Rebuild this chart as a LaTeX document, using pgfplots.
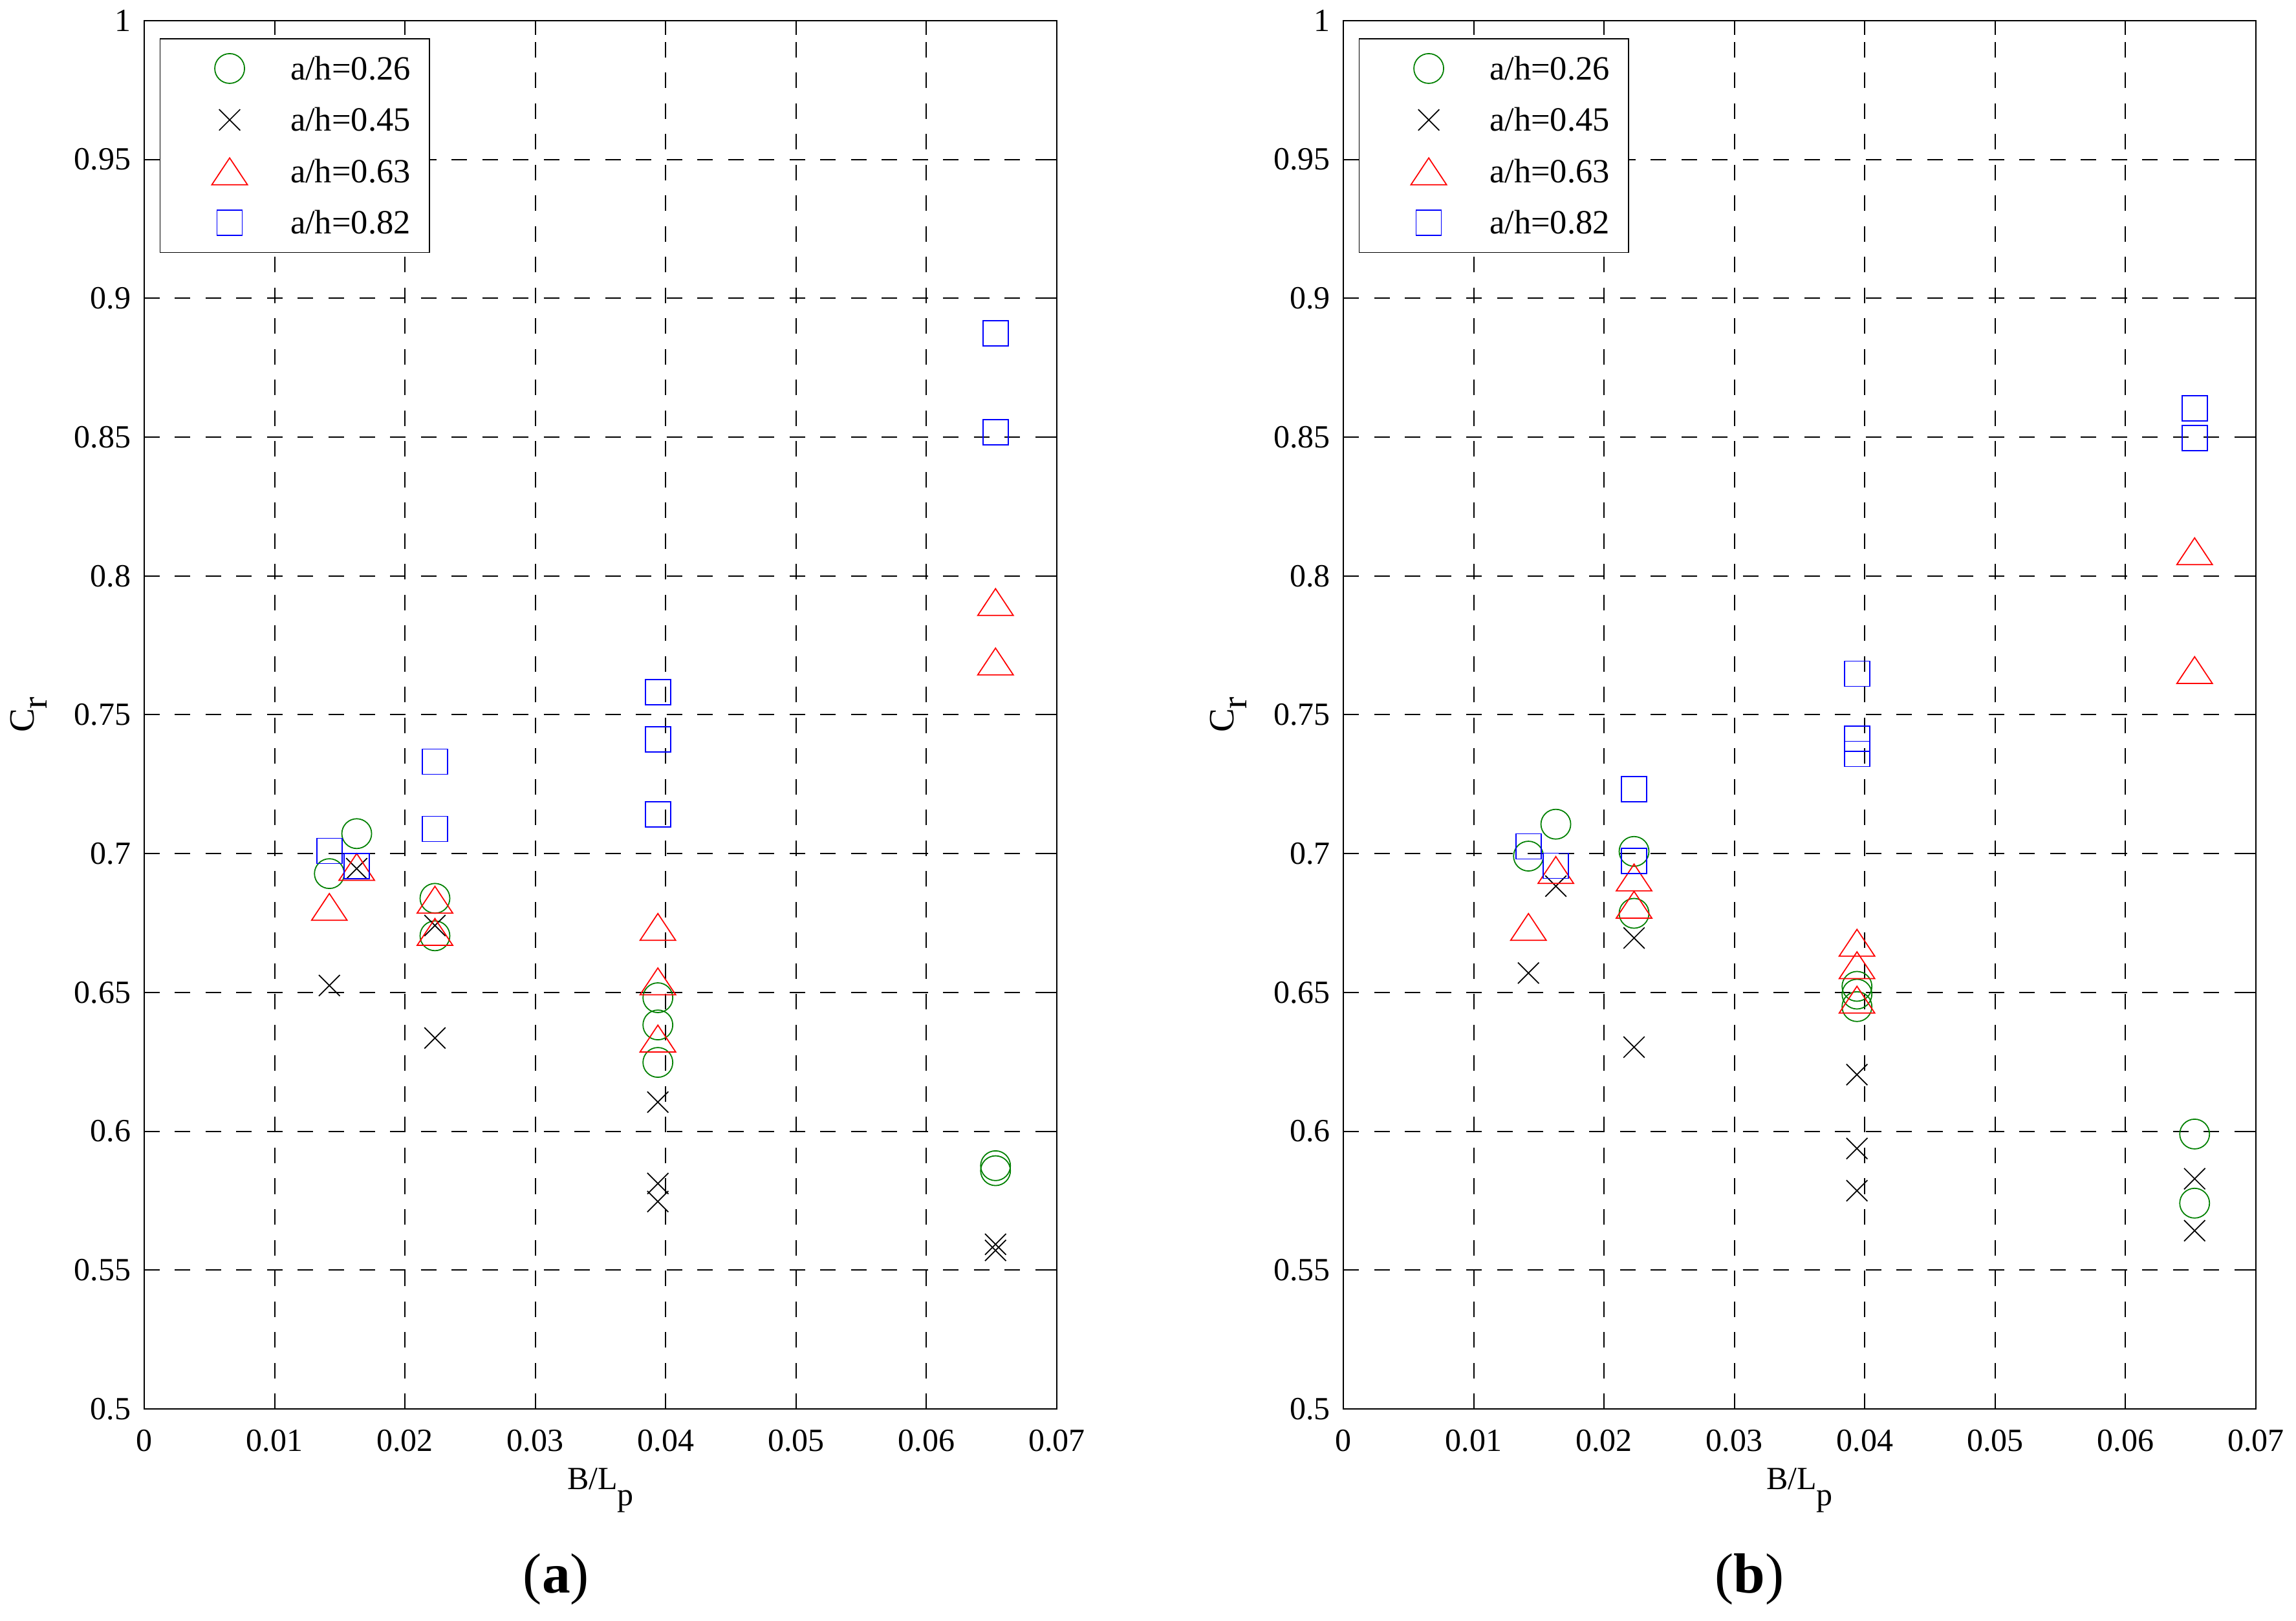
\documentclass[border=0pt]{standalone}
\usepackage{fontspec}
\setmainfont{Liberation Serif}
\usepackage{pgfplots}
\pgfplotsset{compat=1.18}
\definecolor{mgreen}{rgb}{0,0.5,0}

\pgfplotsset{
  myaxis/.style={
    scale only axis, width=282.2pt, height=429.4pt,
    xmin=0, xmax=0.07, ymin=0.5, ymax=1,
    scaled x ticks=false, scaled y ticks=false,
    xtick={0,0.01,0.02,0.03,0.04,0.05,0.06,0.07},
    xticklabels={0,0.01,0.02,0.03,0.04,0.05,0.06,0.07},
    ytick={0.5,0.55,0.6,0.65,0.7,0.75,0.8,0.85,0.9,0.95,1},
    yticklabels={0.5,0.55,0.6,0.65,0.7,0.75,0.8,0.85,0.9,0.95,1},
    tick align=inside, xtick pos=both, ytick pos=both,
    xticklabel pos=lower, yticklabel pos=left,
    major tick length=4.5pt,
    tick style={black, line width=0.4pt},
    axis line style={black, line width=0.4pt},
    grid=major,
    major grid style={black, line width=0.4pt, dash pattern=on 4.8pt off 4.7pt},
    xticklabel style={font=\fontsize{10}{12}\selectfont, inner sep=0pt, anchor=north, yshift=-6.2pt},
    yticklabel style={font=\fontsize{10}{12}\selectfont, inner sep=0pt, anchor=east, xshift=-3.9pt},
    every axis x label/.style={at={(axis description cs:0.5,0)}, anchor=north, inner sep=0pt, yshift=-18.2pt, font=\fontsize{10}{12}\selectfont},
    every axis y label/.style={at={(axis description cs:0,0.5)}, xshift=-34pt, rotate=90, anchor=base, inner sep=0pt, font=\fontsize{11}{13}\selectfont},
    xlabel={B/L\raisebox{-5pt}{p}},
    ylabel={C\raisebox{-4pt}{r}},
    legend cell align=left,
    legend style={at={(0.0168,0.9874)}, anchor=north west, draw=black, line width=0.35pt, fill=white,
      inner xsep=5.9pt, inner ysep=1.25pt, row sep=0pt, column sep=10.4pt,
      font=\fontsize{10.5}{12}\selectfont,
      nodes={inner sep=0pt, text height=7pt, text depth=0pt}},
    legend image code/.code={\path[draw=none, fill=none] (0pt,-7.95pt) rectangle (24pt,7.95pt); \draw[##1] plot coordinates {(15.6pt,0pt)};},
  },
  scirc/.style={only marks, color=mgreen, mark=o, mark size=4.6pt, mark options={solid, line width=0.35pt}},
  scross/.style={only marks, color=black, mark=x, mark size=4.6pt, mark options={solid, line width=0.35pt}},
  stri/.style={only marks, color=red, mark=triangle, mark size=6.35pt, mark options={solid, line width=0.35pt, yshift=-1.38pt, yscale=0.87}},
  ssq/.style={only marks, color=blue, mark=square, mark size=3.9pt, mark options={solid, line width=0.35pt}},
}

\begin{document}
\begin{tikzpicture}
% ---------------- (a)
\begin{axis}[myaxis, at={(44.6pt,65.4pt)}, anchor=south west]
\addplot[scirc] coordinates {(0.0142,0.6928) (0.0163,0.7072) (0.0223,0.6839) (0.0223,0.6704) (0.0394,0.6481) (0.0394,0.6383) (0.0394,0.6248) (0.0653,0.5876) (0.0653,0.5858)};
\addlegendentry{a/h=0.26}
\addplot[scross] coordinates {(0.0142,0.6525) (0.0163,0.6946) (0.0223,0.6741) (0.0223,0.6336) (0.0394,0.6105) (0.0394,0.5812) (0.0394,0.5747) (0.0653,0.5593) (0.0653,0.5571)};
\addlegendentry{a/h=0.45}
\addplot[stri] coordinates {(0.0142,0.6808) (0.0163,0.6952) (0.0223,0.6834) (0.0223,0.6718) (0.0394,0.6736) (0.0394,0.6540) (0.0394,0.6334) (0.0653,0.7906) (0.0653,0.7692)};
\addlegendentry{a/h=0.63}
\addplot[ssq] coordinates {(0.0142,0.7010) (0.0163,0.6955) (0.0223,0.7331) (0.0223,0.7089) (0.0394,0.7581) (0.0394,0.7412) (0.0394,0.7142) (0.0653,0.8874) (0.0653,0.8518)};
\addlegendentry{a/h=0.82}
\end{axis}
% ---------------- (b)
\begin{axis}[myaxis, at={(415.4pt,65.4pt)}, anchor=south west]
\addplot[scirc] coordinates {(0.0142,0.6991) (0.0163,0.7106) (0.0223,0.7008) (0.0223,0.6785) (0.0394,0.6522) (0.0394,0.6494) (0.0394,0.6449) (0.0653,0.5990) (0.0653,0.5741)};
\addlegendentry{a/h=0.26}
\addplot[scross] coordinates {(0.0142,0.6570) (0.0163,0.6883) (0.0223,0.6696) (0.0223,0.6303) (0.0394,0.6204) (0.0394,0.5938) (0.0394,0.5786) (0.0653,0.5829) (0.0653,0.5642)};
\addlegendentry{a/h=0.45}
\addplot[stri] coordinates {(0.0142,0.6736) (0.0163,0.6941) (0.0223,0.6914) (0.0223,0.6816) (0.0394,0.6679) (0.0394,0.6598) (0.0394,0.6474) (0.0653,0.8089) (0.0653,0.7661)};
\addlegendentry{a/h=0.63}
\addplot[ssq] coordinates {(0.0142,0.7026) (0.0163,0.6956) (0.0223,0.7232) (0.0223,0.6973) (0.0394,0.7648) (0.0394,0.7414) (0.0394,0.7359) (0.0653,0.8604) (0.0653,0.8496)};
\addlegendentry{a/h=0.82}
\end{axis}
\node[anchor=base, inner sep=0pt, font=\fontsize{17.5}{20}\selectfont] at (172pt,8.6pt) {(\textbf{a})};
\node[anchor=base, inner sep=0pt, font=\fontsize{17.5}{20}\selectfont] at (541pt,8.6pt) {(\textbf{b})};
\pgfresetboundingbox
\path (0pt,0pt) rectangle (710pt,501.2pt);
\end{tikzpicture}
\end{document}
